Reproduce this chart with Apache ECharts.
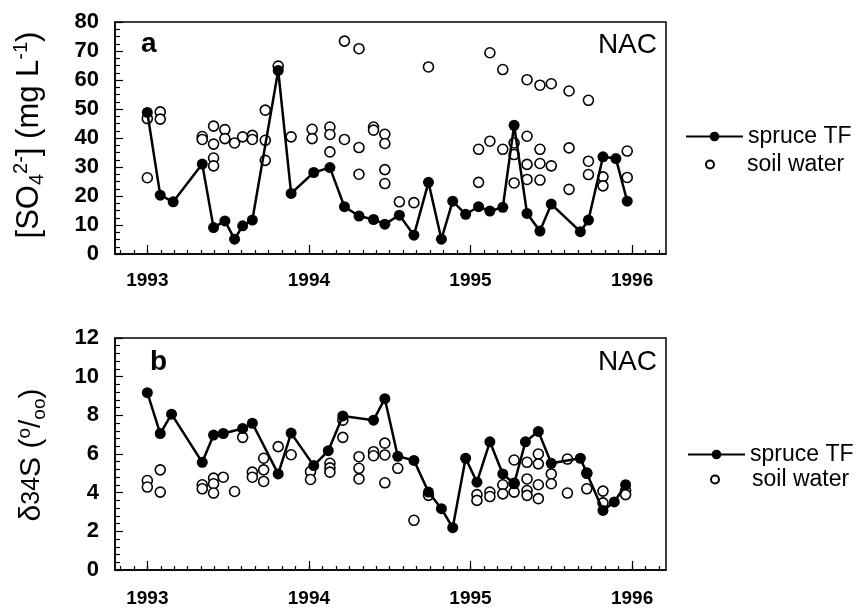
<!DOCTYPE html>
<html>
<head>
<meta charset="utf-8">
<script src="https://cdn.jsdelivr.net/npm/echarts@6.0.0/dist/echarts.min.js"></script>
<style>
html, body { margin: 0; padding: 0; background: #fff; }
#chart { width: 856px; height: 608px; }
</style>
</head>
<body>
<div id="chart"></div>
<script>
// panel a: sulfate, spruce throughfall (line) and soil water (open circles)
var tfTimeA = [1993.00, 1993.08, 1993.16, 1993.34, 1993.41, 1993.48, 1993.54, 1993.59, 1993.65, 1993.81,
	1993.89, 1994.03, 1994.13, 1994.22, 1994.31, 1994.40, 1994.47, 1994.56, 1994.65, 1994.74,
	1994.82, 1994.89, 1994.97, 1995.05, 1995.12, 1995.20, 1995.27, 1995.35, 1995.43, 1995.50,
	1995.68, 1995.73, 1995.82, 1995.90, 1995.97];
var tfSO4 = [48.8, 20.3, 18.0, 31.0, 9.1, 11.4, 5.1, 9.7, 11.7, 63.3,
	20.9, 28.1, 29.8, 16.3, 13.1, 11.9, 10.3, 13.4, 6.5, 24.7,
	5.1, 18.2, 13.7, 16.3, 14.8, 16.1, 44.4, 14.0, 7.9, 17.2,
	7.7, 11.7, 33.5, 32.9, 18.2];

var swTimeA = [1993.00, 1993.00, 1993.08, 1993.08, 1993.34, 1993.34, 1993.41, 1993.41, 1993.41, 1993.41,
	1993.48, 1993.48, 1993.54, 1993.59, 1993.65, 1993.65, 1993.73, 1993.73, 1993.73, 1993.81,
	1993.89, 1994.02, 1994.02, 1994.13, 1994.13, 1994.13, 1994.22, 1994.22, 1994.31, 1994.31,
	1994.31, 1994.40, 1994.40, 1994.47, 1994.47, 1994.47, 1994.47, 1994.56, 1994.65, 1994.74,
	1995.05, 1995.05, 1995.12, 1995.12, 1995.20, 1995.20, 1995.27, 1995.27, 1995.27, 1995.35,
	1995.35, 1995.35, 1995.35, 1995.43, 1995.43, 1995.43, 1995.43, 1995.50, 1995.50, 1995.61,
	1995.61, 1995.61, 1995.73, 1995.73, 1995.73, 1995.82, 1995.82, 1995.97, 1995.97];
var swSO4 = [46.7, 26.3, 49.0, 46.5, 40.5, 39.5, 44.1, 37.9, 33.1, 30.4,
	42.9, 39.8, 38.3, 40.4, 40.9, 39.5, 49.6, 39.2, 32.3, 64.8,
	40.4, 43.0, 39.8, 43.8, 41.2, 35.2, 73.4, 39.5, 70.8, 36.7,
	27.5, 43.8, 42.7, 41.3, 38.1, 29.1, 24.3, 18.0, 17.7, 64.5,
	36.1, 24.7, 69.4, 38.9, 63.6, 36.1, 38.3, 34.3, 24.5, 60.1,
	40.6, 30.9, 25.7, 58.2, 36.1, 31.2, 25.5, 58.7, 30.4, 56.2,
	36.6, 22.3, 53.0, 32.0, 27.4, 26.6, 23.5, 35.5, 26.4];

// panel b: delta 34S
var tfTimeB = [1993.00, 1993.08, 1993.15, 1993.34, 1993.41, 1993.47, 1993.59, 1993.65, 1993.81, 1993.89,
	1994.03, 1994.12, 1994.21, 1994.40, 1994.47, 1994.55, 1994.65, 1994.74, 1994.82, 1994.89,
	1994.97, 1995.04, 1995.12, 1995.20, 1995.27, 1995.34, 1995.42, 1995.50, 1995.68, 1995.72,
	1995.82, 1995.89, 1995.96];
var tfD34S = [9.17, 7.06, 8.06, 5.57, 6.98, 7.06, 7.32, 7.59, 4.97, 7.08,
	5.4, 6.17, 7.97, 7.75, 8.86, 5.88, 5.67, 4.03, 3.17, 2.19,
	5.78, 4.54, 6.63, 4.97, 4.46, 6.63, 7.17, 5.52, 5.78, 5.0,
	3.08, 3.52, 4.41];

var swTimeB = [1993.00, 1993.00, 1993.08, 1993.08, 1993.34, 1993.34, 1993.41, 1993.41, 1993.41, 1993.47,
	1993.54, 1993.59, 1993.65, 1993.65, 1993.72, 1993.72, 1993.72, 1993.81, 1993.89, 1994.01,
	1994.01, 1994.13, 1994.13, 1994.13, 1994.21, 1994.21, 1994.31, 1994.31, 1994.31, 1994.40,
	1994.40, 1994.47, 1994.47, 1994.47, 1994.55, 1994.65, 1994.74, 1995.04, 1995.04, 1995.12,
	1995.12, 1995.20, 1995.20, 1995.27, 1995.27, 1995.27, 1995.35, 1995.35, 1995.35, 1995.35,
	1995.42, 1995.42, 1995.42, 1995.42, 1995.50, 1995.50, 1995.60, 1995.60, 1995.72, 1995.72,
	1995.82, 1995.82, 1995.96, 1995.96];
var swD34S = [4.63, 4.29, 5.18, 4.03, 4.41, 4.2, 4.75, 4.46, 3.98, 4.8,
	4.06, 6.86, 5.06, 4.8, 5.78, 5.18, 4.58, 6.38, 5.96, 5.09,
	4.68, 5.52, 5.28, 5.06, 7.75, 6.86, 5.86, 5.26, 4.71, 6.12,
	5.91, 6.56, 5.95, 4.51, 5.26, 2.57, 3.86, 3.9, 3.6, 4.03,
	3.8, 4.41, 3.94, 5.69, 4.49, 4.03, 5.57, 4.71, 4.11, 3.86,
	6.0, 5.49, 4.41, 3.69, 4.97, 4.46, 5.74, 3.98, 5.01, 4.2,
	4.08, 3.47, 4.11, 3.9];

var yearTicks = [1993, 1994, 1995, 1996];
var xMin = 1992.8, xMax = 1996.21;

var FONT = '"Liberation Sans", Arial, Helvetica, sans-serif';

// monthly tick positions
var monthTicks = [];
for (var k = -2; k <= 38; k++) {
	monthTicks.push(1993 + k / 12);
}

function zip(xs, ys) {
	var out = [];
	for (var i = 0; i < xs.length; i++) {
		out.push([xs[i], ys[i]]);
	}
	return out;
}

function monthAxis(gridIndex) {
	return {
		type: 'value', gridIndex: gridIndex, min: xMin, max: xMax, position: 'bottom',
		axisLine: { show: true, onZero: false, lineStyle: { color: '#000', width: 1.5 } },
		axisTick: { show: true, inside: true, length: 4, customValues: monthTicks, lineStyle: { color: '#000', width: 1.2 } },
		axisLabel: { show: false },
		splitLine: { show: false }
	};
}

function yearAxis(gridIndex, margin) {
	return {
		type: 'value', gridIndex: gridIndex, min: xMin, max: xMax, position: 'bottom',
		axisLine: { show: false },
		axisTick: { show: true, inside: true, length: 9, customValues: yearTicks, lineStyle: { color: '#000', width: 1.2 } },
		axisLabel: {
			show: true, customValues: yearTicks, margin: margin,
			color: '#000', fontSize: 19, fontWeight: 'bold', fontFamily: FONT,
			formatter: function (v) { return String(Math.round(v)); }
		},
		splitLine: { show: false }
	};
}

function valueAxis(gridIndex, max, interval, minorSplit) {
	return {
		type: 'value', gridIndex: gridIndex, min: 0, max: max, interval: interval,
		axisLine: { show: true, lineStyle: { color: '#000', width: 1.5 } },
		axisTick: { show: true, inside: true, length: 8, lineStyle: { color: '#000', width: 1.2 } },
		minorTick: { show: true, splitNumber: minorSplit, length: 5, lineStyle: { color: '#000', width: 1.2 } },
		axisLabel: { color: '#000', fontSize: 22, fontWeight: 'bold', fontFamily: FONT, margin: 16 },
		splitLine: { show: false }
	};
}

function tfSeries(name, data, xi, yi) {
	return {
		name: name, type: 'line', data: data, xAxisIndex: xi, yAxisIndex: yi,
		symbol: 'circle', symbolSize: 11, showSymbol: true,
		lineStyle: { color: '#000', width: 2.5 },
		itemStyle: { color: '#000' },
		animation: false
	};
}

function swSeries(name, data, xi, yi) {
	return {
		name: name, type: 'scatter', data: data, xAxisIndex: xi, yAxisIndex: yi,
		symbol: 'circle', symbolSize: 10,
		itemStyle: { color: '#fff', borderColor: '#000', borderWidth: 1.6, opacity: 1 },
		animation: false
	};
}

function oneLegend(name, left, top, w, h) {
	return {
		data: [name], left: left, top: top, orient: 'vertical', padding: 0,
		itemWidth: w, itemHeight: h, selectedMode: false,
		textStyle: { color: '#000', fontSize: 23, fontFamily: FONT }
	};
}

function panelText(text, x, y, align, bold) {
	return {
		type: 'text', x: x, y: y,
		style: {
			text: text, fill: '#000', align: align, verticalAlign: 'middle',
			font: (bold ? 'bold ' : '') + '28px ' + FONT
		}
	};
}

var option = {
	backgroundColor: '#fff',
	animation: false,
	grid: [
		{ left: 115, top: 22, width: 551, height: 232, show: true, borderColor: '#000', borderWidth: 1.5, backgroundColor: 'transparent' },
		{ left: 115, top: 338, width: 551, height: 234, show: true, borderColor: '#000', borderWidth: 1.5, backgroundColor: 'transparent' }
	],
	xAxis: [monthAxis(0), yearAxis(0, 17), monthAxis(1), yearAxis(1, 19)],
	yAxis: [valueAxis(0, 80, 10, 4), valueAxis(1, 12, 2, 5)],
	legend: [
		oneLegend('spruce TF', 685, 125, 57, 12),
		oneLegend('soil water', 705, 153, 64, 8),
		oneLegend('spruce TF', 687, 443, 57, 12),
		oneLegend('soil water', 710, 468, 64, 8)
	],
	series: [
		tfSeries('spruce TF', zip(tfTimeA, tfSO4), 0, 0),
		swSeries('soil water', zip(swTimeA, swSO4), 0, 0),
		tfSeries('spruce TF', zip(tfTimeB, tfD34S), 2, 1),
		swSeries('soil water', zip(swTimeB, swD34S), 2, 1)
	],
	graphic: [
		panelText('a', 141, 44, 'left', true),
		panelText('NAC', 657, 45, 'right', false),
		panelText('b', 150, 362, 'left', true),
		panelText('NAC', 657, 362, 'right', false),
		{
			type: 'text', x: 29, y: 135, rotation: Math.PI / 2,
			style: {
				text: '{n|[SO}{sub|4}{sup|2-}{n|] (mg L}{sup|-1}{n|)}',
				align: 'center', verticalAlign: 'middle', fill: '#000',
				rich: {
					n: { fontSize: 31, fontFamily: FONT, lineHeight: 36, fill: '#000' },
					sub: { fontSize: 20, fontFamily: FONT, lineHeight: 19, verticalAlign: 'bottom', fill: '#000' },
					sup: { fontSize: 20, fontFamily: FONT, lineHeight: 19, verticalAlign: 'top', fill: '#000' }
				}
			}
		},
		{
			type: 'text', x: 32, y: 455, rotation: Math.PI / 2,
			style: {
				text: '{n|δ}{m|34}{n|S (}{sup|o}{n|/}{sub|oo}{n|)}',
				align: 'center', verticalAlign: 'middle', fill: '#000',
				rich: {
					n: { fontSize: 30, fontFamily: FONT, lineHeight: 34, fill: '#000' },
					m: { fontSize: 25, fontFamily: FONT, lineHeight: 30, fill: '#000' },
					sub: { fontSize: 19, fontFamily: FONT, lineHeight: 18, verticalAlign: 'bottom', fill: '#000' },
					sup: { fontSize: 19, fontFamily: FONT, lineHeight: 18, verticalAlign: 'top', fill: '#000' }
				}
			}
		}
	]
};

var chart = echarts.init(document.getElementById('chart'), null, { renderer: 'canvas' });
chart.setOption(option);
</script>
</body>
</html>
